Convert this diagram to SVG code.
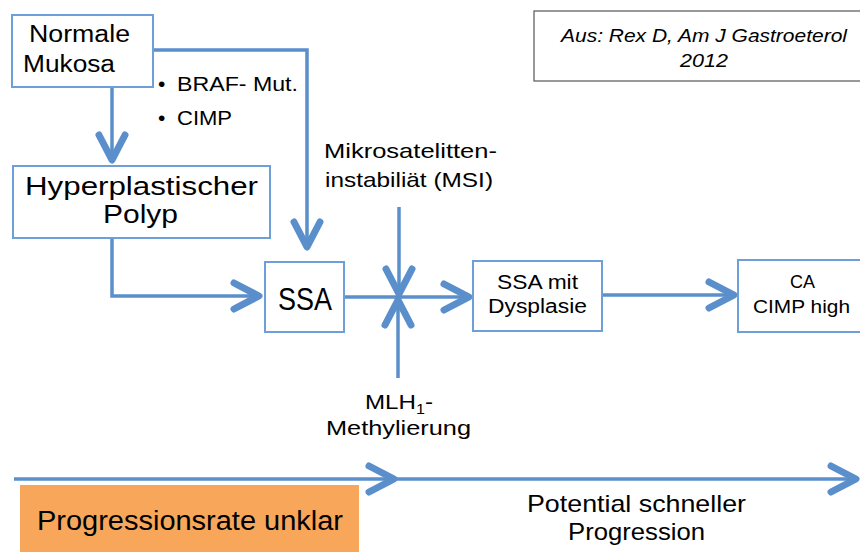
<svg xmlns="http://www.w3.org/2000/svg" width="860" height="552" viewBox="0 0 860 552">
<style>
text{font-family:"Liberation Sans",Arial,sans-serif;fill:#000}
.box{fill:#fff;stroke:#6E9FD8;stroke-width:2}
.ln{fill:none;stroke:#5A8FCB;stroke-width:3.5}
.it{font-style:italic}
</style>
<defs>
<marker id="chev" markerUnits="userSpaceOnUse" markerWidth="60" markerHeight="60" refX="0" refY="0" viewBox="-40 -30 60 60" orient="auto" overflow="visible">
<path d="M-25,-13 L0,0 L-25,13" fill="none" stroke="#5A8FCB" stroke-width="7" stroke-linecap="round" stroke-linejoin="round"/>
</marker>
</defs>
<rect width="860" height="552" fill="#fff"/>

<g id="connectors">
<path class="ln" d="M112,87 V160" marker-end="url(#chev)"/>
<path class="ln" d="M153,50 H307 V247" marker-end="url(#chev)"/>
<path class="ln" d="M112,238 V296 H259" marker-end="url(#chev)"/>
<path class="ln" d="M344,297 H469" marker-end="url(#chev)"/>
<path class="ln" d="M399,207 V294" marker-end="url(#chev)"/>
<path class="ln" d="M398,378 V300" marker-end="url(#chev)"/>
<path class="ln" d="M602,295 H734" marker-end="url(#chev)"/>
<path class="ln" d="M14,479 H394" marker-end="url(#chev)"/>
<path class="ln" d="M394,479 H856" marker-end="url(#chev)"/>
</g>

<g id="normale-mukosa">
<rect class="box" x="12" y="15" width="141" height="72"/>
<text x="29" y="42" font-size="23" textLength="101" lengthAdjust="spacingAndGlyphs">Normale</text>
<text x="23" y="72" font-size="23" textLength="92" lengthAdjust="spacingAndGlyphs">Mukosa</text>
</g>

<g id="bullets">
<text x="158" y="91" font-size="21">•</text>
<text x="177" y="91" font-size="21" textLength="121" lengthAdjust="spacingAndGlyphs">BRAF- Mut.</text>
<text x="158" y="125" font-size="21">•</text>
<text x="177" y="125" font-size="21" textLength="55" lengthAdjust="spacingAndGlyphs">CIMP</text>
</g>

<g id="hyperplastischer-polyp">
<rect class="box" x="13" y="166" width="257" height="72"/>
<text x="25" y="195" font-size="25" textLength="233" lengthAdjust="spacingAndGlyphs">Hyperplastischer</text>
<text x="103" y="223" font-size="25" textLength="75" lengthAdjust="spacingAndGlyphs">Polyp</text>
</g>

<g id="ssa">
<rect class="box" x="265" y="262" width="79" height="70"/>
<text x="278" y="310" font-size="31" textLength="54" lengthAdjust="spacingAndGlyphs">SSA</text>
</g>

<g id="msi-label">
<text x="324" y="158" font-size="21" textLength="173" lengthAdjust="spacingAndGlyphs">Mikrosatelitten-</text>
<text x="325" y="187" font-size="21" textLength="168" lengthAdjust="spacingAndGlyphs">instabiliät (MSI)</text>
</g>

<g id="mlh-label">
<text x="365" y="409" font-size="21" textLength="68" lengthAdjust="spacingAndGlyphs">MLH<tspan font-size="14" dy="5">1</tspan><tspan dy="-5">-</tspan></text>
<text x="326" y="435" font-size="21" textLength="145" lengthAdjust="spacingAndGlyphs">Methylierung</text>
</g>

<g id="ssa-dysplasie">
<rect class="box" x="473" y="261" width="129" height="70"/>
<text x="497" y="289" font-size="20" textLength="81" lengthAdjust="spacingAndGlyphs">SSA mit</text>
<text x="488" y="313" font-size="20" textLength="99" lengthAdjust="spacingAndGlyphs">Dysplasie</text>
</g>

<g id="ca-cimp">
<rect class="box" x="738" y="260" width="130" height="72"/>
<text x="790" y="288" font-size="19" textLength="25" lengthAdjust="spacingAndGlyphs">CA</text>
<text x="753" y="313" font-size="19" textLength="97" lengthAdjust="spacingAndGlyphs">CIMP high</text>
</g>

<g id="citation">
<rect x="534" y="11" width="340" height="70" fill="#fff" stroke="#555" stroke-width="1.2"/>
<text class="it" x="561" y="42" font-size="19" textLength="286" lengthAdjust="spacingAndGlyphs">Aus: Rex D, Am J Gastroeterol</text>
<text class="it" x="680" y="67" font-size="19" textLength="48" lengthAdjust="spacingAndGlyphs">2012</text>
</g>

<g id="progressionsrate">
<rect x="20" y="485" width="339" height="70" fill="#F8A659"/>
<text x="37" y="530" font-size="27" textLength="306" lengthAdjust="spacingAndGlyphs">Progressionsrate unklar</text>
</g>

<g id="potential-label">
<text x="527" y="512" font-size="24" textLength="219" lengthAdjust="spacingAndGlyphs">Potential schneller</text>
<text x="568" y="540" font-size="24" textLength="137" lengthAdjust="spacingAndGlyphs">Progression</text>
</g>
</svg>
